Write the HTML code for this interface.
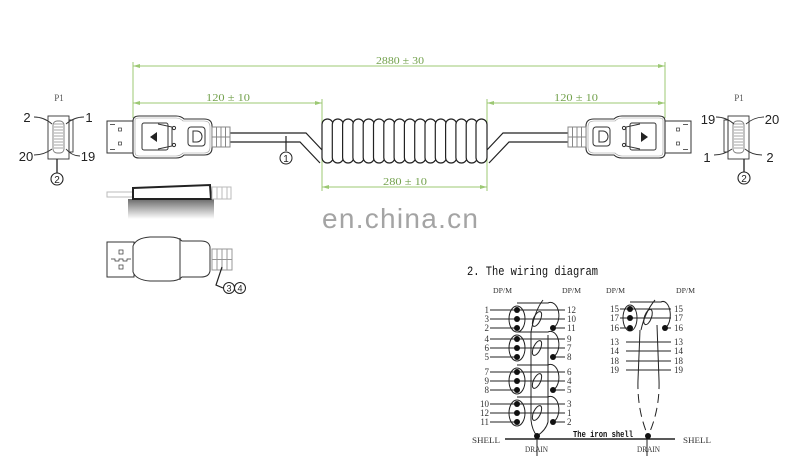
<!DOCTYPE html>
<html><head><meta charset="utf-8"><style>
html,body{margin:0;padding:0;background:#fff;}
svg{display:block;}
</style></head><body>
<svg width="800" height="456" viewBox="0 0 800 456" xmlns="http://www.w3.org/2000/svg">
<rect width="800" height="456" fill="#fff"/>
<defs>
<linearGradient id="sh" x1="0" y1="0" x2="0" y2="1">
<stop offset="0" stop-color="#6a6a6a"/><stop offset="0.5" stop-color="#b5b5b5"/><stop offset="1" stop-color="#fff"/>
</linearGradient>
</defs>

<!-- DIMENSIONS -->
<g stroke="#9cc873" stroke-width="1" fill="none">
<line x1="133" y1="62" x2="133" y2="118"/>
<line x1="665" y1="62" x2="665" y2="118"/>
<line x1="133" y1="66" x2="665" y2="66"/>
<line x1="133" y1="103" x2="322" y2="103"/>
<line x1="487" y1="103" x2="665" y2="103"/>
<line x1="322" y1="99" x2="322" y2="191"/>
<line x1="487" y1="99" x2="487" y2="191"/>
<line x1="322" y1="187" x2="487" y2="187"/>
</g>
<g fill="#9cc873">
<path d="M133 66 l7 -2 v4z"/><path d="M665 66 l-7 -2 v4z"/>
<path d="M133 103 l7 -2 v4z"/><path d="M322 103 l-7 -2 v4z"/>
<path d="M487 103 l7 -2 v4z"/><path d="M665 103 l-7 -2 v4z"/>
<path d="M322 187 l7 -2 v4z"/><path d="M487 187 l-7 -2 v4z"/>
</g>
<g font-family="Liberation Serif, serif" font-size="11" fill="#74a24e" text-anchor="middle">
<text x="400" y="64" textLength="48" lengthAdjust="spacingAndGlyphs">2880 ± 30</text>
<text x="228" y="101" textLength="44" lengthAdjust="spacingAndGlyphs">120 ± 10</text>
<text x="576" y="101" textLength="44" lengthAdjust="spacingAndGlyphs">120 ± 10</text>
<text x="405" y="185" textLength="44" lengthAdjust="spacingAndGlyphs">280 ± 10</text>
</g>

<!-- CABLES -->
<g stroke="#222" stroke-width="1.2" fill="none">
<path d="M230 133 H306 L323 151"/>
<path d="M230 142 H300 L320 163"/>
<path d="M568 133 H503 L486 151"/>
<path d="M568 142 H509 L489 163"/>
<line x1="286" y1="136" x2="286" y2="151"/>
</g>
<circle cx="286" cy="158" r="6" fill="#fff" stroke="#222" stroke-width="1"/>
<text x="286" y="162" font-family="Liberation Sans, sans-serif" font-size="10" text-anchor="middle" fill="#222">1</text>

<!-- COIL -->
<g stroke="#222" stroke-width="1.2" fill="#fff">
<rect x="322" y="119" width="11" height="44" rx="5.5"/>
<rect x="332.3" y="119" width="11" height="44" rx="5.5"/>
<rect x="342.6" y="119" width="11" height="44" rx="5.5"/>
<rect x="352.9" y="119" width="11" height="44" rx="5.5"/>
<rect x="363.2" y="119" width="11" height="44" rx="5.5"/>
<rect x="373.5" y="119" width="11" height="44" rx="5.5"/>
<rect x="383.8" y="119" width="11" height="44" rx="5.5"/>
<rect x="394.1" y="119" width="11" height="44" rx="5.5"/>
<rect x="404.4" y="119" width="11" height="44" rx="5.5"/>
<rect x="414.7" y="119" width="11" height="44" rx="5.5"/>
<rect x="425" y="119" width="11" height="44" rx="5.5"/>
<rect x="435.3" y="119" width="11" height="44" rx="5.5"/>
<rect x="445.6" y="119" width="11" height="44" rx="5.5"/>
<rect x="455.9" y="119" width="11" height="44" rx="5.5"/>
<rect x="466.2" y="119" width="11" height="44" rx="5.5"/>
<rect x="476" y="119" width="11" height="44" rx="5.5"/>
</g>

<!-- LEFT CONNECTOR -->
<g id="connL" stroke="#333" stroke-width="1" fill="#fff">
<rect x="107" y="121" width="26" height="32"/>
<rect x="118.5" y="128" width="3" height="3" stroke-width="0.7"/>
<rect x="118.5" y="142" width="3" height="3" stroke-width="0.7"/>
<line x1="110" y1="124.5" x2="115" y2="124.5" stroke-width="0.8"/>
<line x1="110" y1="149.5" x2="115" y2="149.5" stroke-width="0.8"/>
<path d="M133 121 Q133 116 139 116 L176 116 Q181 116 184 119 L204 119 Q212 119 212 126 L212 148 Q212 155 204 155 L184 155 Q181 158 176 158 L139 158 Q133 158 133 153 Z" stroke-width="1.1"/>
<path d="M135 120 Q135 118 139 118 L176 118 Q180 118 183 121 L204 121 Q210 121 210 127 L210 147 Q210 153 204 153 L183 153 Q180 156 176 156 L139 156 Q135 156 135 152 Z" stroke="#999" stroke-width="0.6"/>
<rect x="142" y="123" width="26" height="27" rx="2"/>
<path d="M158 124 L172 127 L172 146 L158 149" fill="none"/>
<circle cx="174" cy="128" r="1.6"/>
<circle cx="174" cy="145" r="1.6"/>
<path d="M150 137 L157 132 L157 142 Z" fill="#222" stroke="none"/>
<rect x="188" y="127" width="17" height="19" rx="3"/>
<path d="M193 131 h4 a5 5.5 0 0 1 0 11 h-4 z" fill="none" stroke-width="1"/>
<rect x="212" y="127" width="18" height="20" stroke="#888"/>
<line x1="216.5" y1="127" x2="216.5" y2="147" stroke="#888"/>
<line x1="221" y1="127" x2="221" y2="147" stroke="#888"/>
<line x1="225.5" y1="127" x2="225.5" y2="147" stroke="#888"/>
<line x1="212" y1="137" x2="230" y2="137" stroke="#888"/>
</g>

<!-- RIGHT CONNECTOR (mirrored) -->
<g transform="translate(798,0) scale(-1,1)" stroke="#333" stroke-width="1" fill="#fff">
<rect x="107" y="121" width="26" height="32"/>
<rect x="118.5" y="128" width="3" height="3" stroke-width="0.7"/>
<rect x="118.5" y="142" width="3" height="3" stroke-width="0.7"/>
<line x1="110" y1="124.5" x2="115" y2="124.5" stroke-width="0.8"/>
<line x1="110" y1="149.5" x2="115" y2="149.5" stroke-width="0.8"/>
<path d="M133 121 Q133 116 139 116 L176 116 Q181 116 184 119 L204 119 Q212 119 212 126 L212 148 Q212 155 204 155 L184 155 Q181 158 176 158 L139 158 Q133 158 133 153 Z" stroke-width="1.1"/>
<path d="M135 120 Q135 118 139 118 L176 118 Q180 118 183 121 L204 121 Q210 121 210 127 L210 147 Q210 153 204 153 L183 153 Q180 156 176 156 L139 156 Q135 156 135 152 Z" stroke="#999" stroke-width="0.6"/>
<rect x="142" y="123" width="26" height="27" rx="2"/>
<path d="M158 124 L172 127 L172 146 L158 149" fill="none"/>
<circle cx="174" cy="128" r="1.6"/>
<circle cx="174" cy="145" r="1.6"/>
<path d="M150 137 L157 132 L157 142 Z" fill="#222" stroke="none"/>
<rect x="188" y="127" width="17" height="19" rx="3"/>
<path d="M199 131 h-4 a5 5.5 0 0 0 0 11 h4 z" fill="none" stroke-width="1"/>
<rect x="212" y="127" width="18" height="20" stroke="#888"/>
<line x1="216.5" y1="127" x2="216.5" y2="147" stroke="#888"/>
<line x1="221" y1="127" x2="221" y2="147" stroke="#888"/>
<line x1="225.5" y1="127" x2="225.5" y2="147" stroke="#888"/>
<line x1="212" y1="137" x2="230" y2="137" stroke="#888"/>
</g>

<!-- LEFT P1 FACE -->
<g font-family="Liberation Sans, sans-serif" fill="#222">
<text x="59" y="101" font-family="Liberation Serif, serif" font-size="9" text-anchor="middle" fill="#555">P1</text>
<text x="27" y="122" font-size="13" text-anchor="middle">2</text>
<text x="89" y="122" font-size="13" text-anchor="middle">1</text>
<text x="26" y="161" font-size="13" text-anchor="middle">20</text>
<text x="88" y="161" font-size="13" text-anchor="middle">19</text>
</g>
<g stroke="#333" fill="none" stroke-width="0.9">
<rect x="48" y="116" width="21" height="43" fill="#fff"/>
<rect x="69" y="120" width="4" height="32"/>
<rect x="53" y="121" width="11" height="32" rx="4" stroke="#777"/>
<path d="M54 124 h9 M54 127 h9 M54 130 h9 M54 133 h9 M54 136 h9 M54 139 h9 M54 142 h9 M54 145 h9 M54 148 h9" stroke="#888" stroke-width="0.8"/>
<path d="M34 117 Q44 117 52 124"/>
<path d="M84 117 Q74 117 66 124"/>
<path d="M34 155 Q44 155 52 149"/>
<path d="M80 156 Q72 156 66 149"/>
<line x1="57" y1="159" x2="57" y2="173" stroke="#222" stroke-width="1.3"/>
<circle cx="57" cy="179" r="6" stroke="#222" stroke-width="1.1" fill="#fff"/>
</g>
<text x="57" y="183" font-family="Liberation Sans, sans-serif" font-size="10" text-anchor="middle" fill="#222">2</text>

<!-- RIGHT P1 FACE -->
<g font-family="Liberation Sans, sans-serif" fill="#222">
<text x="739" y="101" font-family="Liberation Serif, serif" font-size="9" text-anchor="middle" fill="#555">P1</text>
<text x="708" y="124" font-size="13" text-anchor="middle">19</text>
<text x="772" y="124" font-size="13" text-anchor="middle">20</text>
<text x="707" y="162" font-size="13" text-anchor="middle">1</text>
<text x="770" y="162" font-size="13" text-anchor="middle">2</text>
</g>
<g stroke="#333" fill="none" stroke-width="0.9">
<rect x="728" y="116" width="21" height="43" fill="#fff"/>
<rect x="724" y="120" width="4" height="32"/>
<rect x="733" y="121" width="11" height="32" rx="4" stroke="#777"/>
<path d="M734 124 h9 M734 127 h9 M734 130 h9 M734 133 h9 M734 136 h9 M734 139 h9 M734 142 h9 M734 145 h9 M734 148 h9" stroke="#888" stroke-width="0.8"/>
<path d="M716 117 Q726 117 734 124"/>
<path d="M764 117 Q754 117 746 124"/>
<path d="M714 155 Q724 155 732 149"/>
<path d="M762 155 Q752 155 745 149"/>
<line x1="744" y1="159" x2="744" y2="172" stroke="#222" stroke-width="1.3"/>
<circle cx="744" cy="178" r="6" stroke="#222" stroke-width="1.1" fill="#fff"/>
</g>
<text x="744" y="182" font-family="Liberation Sans, sans-serif" font-size="10" text-anchor="middle" fill="#222">2</text>

<!-- SIDE VIEW -->
<rect x="128" y="199" width="86" height="20" fill="url(#sh)"/>
<rect x="107" y="192" width="26" height="5" fill="none" stroke="#bbb" stroke-width="1"/>
<path d="M133 188 L210 185 L211 199 L133 199 Z" fill="#fff" stroke="#222" stroke-width="2"/>
<g stroke="#bbb" fill="none" stroke-width="1">
<rect x="212" y="187" width="19" height="12"/>
<line x1="217" y1="187" x2="217" y2="199"/><line x1="222" y1="187" x2="222" y2="199"/><line x1="227" y1="187" x2="227" y2="199"/>
</g>

<!-- BOTTOM VIEW -->
<g stroke="#333" stroke-width="1" fill="#fff">
<rect x="107" y="242" width="27" height="35"/>
<rect x="119" y="250" width="4" height="4" stroke-width="0.7"/>
<rect x="119" y="265" width="4" height="4" stroke-width="0.7"/>
<path d="M111 259 h4 v2 h4 v-2 h4 v2 h4 v-2 h4" fill="none" stroke-width="0.7"/>
<path d="M133 246 Q136 238 150 237 L170 237 Q178 237 182 241 L201 241 Q209 241 210 247 L210 271 Q209 277 201 277 L182 277 Q178 281 170 281 L150 281 Q136 280 133 272 Z"/>
<line x1="180" y1="238" x2="180" y2="280"/>
</g>
<g stroke="#999" fill="none" stroke-width="1">
<rect x="212" y="249" width="20" height="21"/>
<line x1="217" y1="249" x2="217" y2="270"/><line x1="222" y1="249" x2="222" y2="270"/><line x1="227" y1="249" x2="227" y2="270"/>
<line x1="212" y1="259.5" x2="232" y2="259.5"/>
</g>
<path d="M222 267 L216 285 L223 288" stroke="#222" stroke-width="1.2" fill="none"/>
<circle cx="229" cy="288" r="5.5" fill="#fff" stroke="#222" stroke-width="1"/>
<circle cx="240" cy="288" r="5.5" fill="#fff" stroke="#222" stroke-width="1"/>
<g font-family="Liberation Sans, sans-serif" font-size="9" text-anchor="middle" fill="#222">
<text x="229" y="291.5">3</text><text x="240" y="291.5">4</text>
</g>

<!-- WATERMARK -->
<text x="322" y="228" font-family="Liberation Sans, sans-serif" font-size="28" fill="#a4a4a4" textLength="156" lengthAdjust="spacing">en.china.cn</text>

<!-- WIRING DIAGRAM -->
<text x="467" y="275" font-family="Liberation Mono, monospace" font-size="13" fill="#111" textLength="131" lengthAdjust="spacingAndGlyphs">2. The wiring diagram</text>
<g font-family="Liberation Serif, serif" font-size="7" fill="#333">
<text x="493" y="293" textLength="19" lengthAdjust="spacingAndGlyphs">DP/M</text>
<text x="562" y="293" textLength="19" lengthAdjust="spacingAndGlyphs">DP/M</text>
<text x="606" y="293" textLength="19" lengthAdjust="spacingAndGlyphs">DP/M</text>
<text x="676" y="293" textLength="19" lengthAdjust="spacingAndGlyphs">DP/M</text>
</g>

<!-- left block lines -->
<g stroke="#222" stroke-width="1" fill="none">
<!-- g1 -->
<line x1="490" y1="310" x2="565" y2="310"/><line x1="490" y1="319" x2="565" y2="319"/>
<line x1="490" y1="328" x2="517" y2="328"/><line x1="553" y1="328" x2="565" y2="328"/>
<ellipse cx="517" cy="319" rx="8" ry="13"/>
<path d="M517 303 H548 A8 12.5 0 0 1 553 328"/>
<ellipse cx="537" cy="319" rx="3.5" ry="8" transform="rotate(25 537 319)"/>
<path d="M543 300 Q535 310 531 332"/>
<!-- g2 -->
<line x1="490" y1="339" x2="565" y2="339"/><line x1="490" y1="348" x2="565" y2="348"/>
<line x1="490" y1="357" x2="517" y2="357"/><line x1="553" y1="357" x2="565" y2="357"/>
<ellipse cx="517" cy="348" rx="8" ry="13"/>
<path d="M517 332 H548 A8 12.5 0 0 1 553 357"/>
<ellipse cx="537" cy="348" rx="3.5" ry="8" transform="rotate(25 537 348)"/>
<!-- g3 -->
<line x1="490" y1="372" x2="565" y2="372"/><line x1="490" y1="381" x2="565" y2="381"/>
<line x1="490" y1="390" x2="517" y2="390"/><line x1="553" y1="390" x2="565" y2="390"/>
<ellipse cx="517" cy="381" rx="8" ry="13"/>
<path d="M517 365 H548 A8 12.5 0 0 1 553 390"/>
<ellipse cx="537" cy="381" rx="3.5" ry="8" transform="rotate(25 537 381)"/>
<!-- g4 -->
<line x1="490" y1="404" x2="565" y2="404"/><line x1="490" y1="413" x2="565" y2="413"/>
<line x1="490" y1="422" x2="517" y2="422"/><line x1="553" y1="422" x2="565" y2="422"/>
<ellipse cx="517" cy="413" rx="8" ry="13"/>
<path d="M517 397 H548 A8 12.5 0 0 1 553 422"/>
<ellipse cx="537" cy="413" rx="3.5" ry="8" transform="rotate(25 537 413)"/>
<!-- drains -->
<path d="M531 332 L531 420 Q532 430 537 436"/>
<path d="M548 335 L548 422 Q546 430 537 436"/>
<line x1="537" y1="436" x2="537" y2="456"/>
<!-- right block -->
<line x1="620" y1="309" x2="671" y2="309"/><line x1="620" y1="318" x2="671" y2="318"/>
<line x1="620" y1="328" x2="630" y2="328"/><line x1="665" y1="328" x2="671" y2="328"/>
<ellipse cx="630" cy="318" rx="7" ry="13"/>
<path d="M630 302 H661 A7 13 0 0 1 665 328"/>
<ellipse cx="648" cy="317" rx="3.5" ry="8" transform="rotate(20 648 317)"/>
<path d="M655 300 Q645 312 641 330"/>
<line x1="626" y1="342" x2="671" y2="342"/><line x1="626" y1="351" x2="671" y2="351"/>
<line x1="626" y1="361" x2="671" y2="361"/><line x1="626" y1="370" x2="671" y2="370"/>
<path d="M640 330 L638 380"/>
<path d="M657 325 L659 380"/>
<path d="M638 380 Q637 410 648 436" stroke-dasharray="9 5"/>
<path d="M659 380 Q660 410 648 436" stroke-dasharray="9 5"/>
<line x1="647" y1="436" x2="647" y2="456"/>
<!-- shell -->
<line x1="505" y1="439" x2="675" y2="439" stroke-width="1.4"/>
</g>
<g fill="#111">
<circle cx="517" cy="310" r="3"/><circle cx="517" cy="319" r="3"/><circle cx="517" cy="328" r="3"/><circle cx="553" cy="328" r="3"/>
<circle cx="517" cy="339" r="3"/><circle cx="517" cy="348" r="3"/><circle cx="517" cy="357" r="3"/><circle cx="553" cy="357" r="3"/>
<circle cx="517" cy="372" r="3"/><circle cx="517" cy="381" r="3"/><circle cx="517" cy="390" r="3"/><circle cx="553" cy="390" r="3"/>
<circle cx="517" cy="404" r="3"/><circle cx="517" cy="413" r="3"/><circle cx="517" cy="422" r="3"/><circle cx="553" cy="422" r="3"/>
<circle cx="630" cy="309" r="3"/><circle cx="630" cy="318" r="3"/><circle cx="630" cy="328" r="3"/><circle cx="665" cy="328" r="3"/>
<circle cx="537" cy="436" r="3"/><circle cx="648" cy="436" r="3"/>
</g>
<g font-family="Liberation Serif, serif" font-size="9" fill="#333">
<g text-anchor="end">
<text x="489" y="313">1</text><text x="489" y="322">3</text><text x="489" y="331">2</text>
<text x="489" y="342">4</text><text x="489" y="351">6</text><text x="489" y="360">5</text>
<text x="489" y="375">7</text><text x="489" y="384">9</text><text x="489" y="393">8</text>
<text x="489" y="407">10</text><text x="489" y="416">12</text><text x="489" y="425">11</text>
<text x="619" y="312">15</text><text x="619" y="321">17</text><text x="619" y="331">16</text>
<text x="619" y="345">13</text><text x="619" y="354">14</text><text x="619" y="364">18</text><text x="619" y="373">19</text>
</g>
<text x="567" y="313">12</text><text x="567" y="322">10</text><text x="567" y="331">11</text>
<text x="567" y="342">9</text><text x="567" y="351">7</text><text x="567" y="360">8</text>
<text x="567" y="375">6</text><text x="567" y="384">4</text><text x="567" y="393">5</text>
<text x="567" y="407">3</text><text x="567" y="416">1</text><text x="567" y="425">2</text>
<text x="674" y="312">15</text><text x="674" y="321">17</text><text x="674" y="331">16</text>
<text x="674" y="345">13</text><text x="674" y="354">14</text><text x="674" y="364">18</text><text x="674" y="373">19</text>
<text x="472" y="443" font-size="8" textLength="28" lengthAdjust="spacingAndGlyphs">SHELL</text>
<text x="683" y="443" font-size="8" textLength="28" lengthAdjust="spacingAndGlyphs">SHELL</text>
<text x="525" y="452" font-size="8" textLength="23" lengthAdjust="spacingAndGlyphs">DRAIN</text>
<text x="637" y="452" font-size="8" textLength="23" lengthAdjust="spacingAndGlyphs">DRAIN</text>
</g>
<text x="573" y="437" font-family="Liberation Mono, monospace" font-size="9" font-weight="bold" fill="#111" textLength="60" lengthAdjust="spacingAndGlyphs">The iron shell</text>
</svg>
</body></html>
